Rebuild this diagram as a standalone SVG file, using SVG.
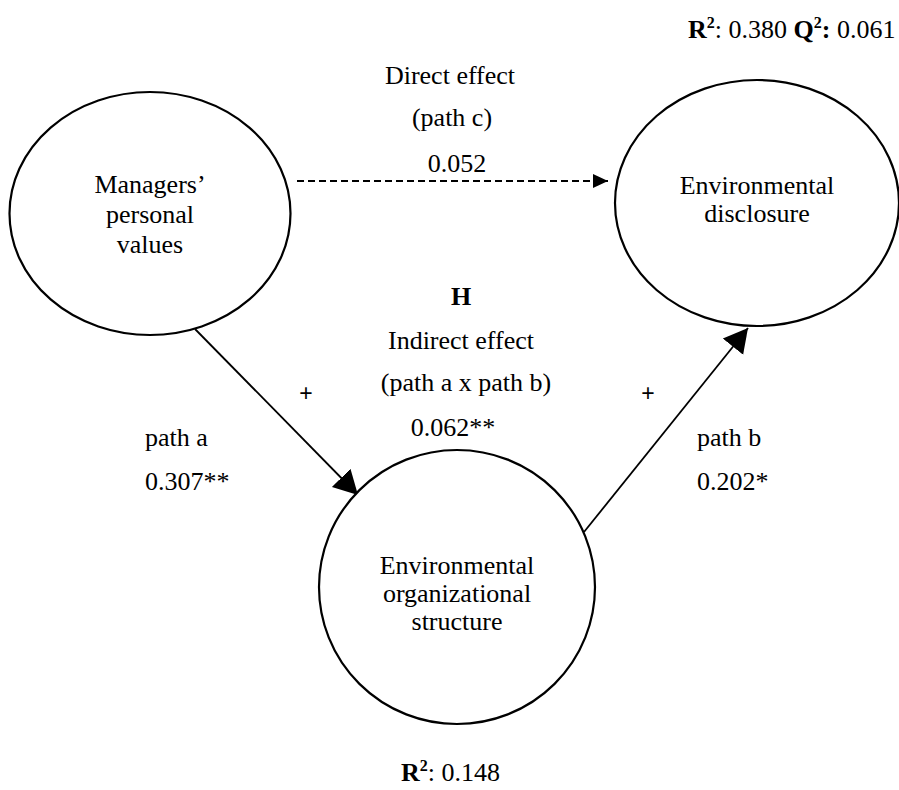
<svg xmlns="http://www.w3.org/2000/svg" width="899" height="790" viewBox="0 0 899 790">
<style>
.t{font-family:"Liberation Serif","Times New Roman",serif;font-size:26px;fill:#000;text-anchor:middle}
.s{font-family:"Liberation Serif","Times New Roman",serif;font-size:26px;fill:#000}
.b{font-weight:bold}
.p{font-family:"Liberation Sans",Arial,sans-serif;font-size:23px;fill:#000;text-anchor:middle}
.n{fill:#fff;stroke:#000;stroke-width:2.2}
.c{stroke:#000;stroke-width:1.8;fill:none}
</style>
<defs>
<marker id="big" markerUnits="userSpaceOnUse" markerWidth="26" markerHeight="28" refX="24" refY="13" orient="auto" viewBox="0 0 26 26">
<path d="M0,0 L24,13 L0,26 Z" fill="#000"/>
</marker>
<marker id="small" markerUnits="userSpaceOnUse" markerWidth="16" markerHeight="14" refX="15" refY="7" orient="auto" viewBox="0 0 16 14">
<path d="M0,0 L15,7 L0,14 Z" fill="#000"/>
</marker>
</defs>
<g id="connectors">
<line class="c" x1="297" y1="181" x2="608" y2="181" stroke-dasharray="7,4" stroke-width="2" marker-end="url(#small)"/>
<line class="c" x1="195" y1="329" x2="358" y2="495" marker-end="url(#big)"/>
<line class="c" x1="584" y1="532" x2="748" y2="328" marker-end="url(#big)"/>
</g>
<g id="node-values">
<ellipse class="n" cx="150" cy="213.5" rx="140.5" ry="121.5"/>
<text class="t" x="150" y="193">Managers’</text>
<text class="t" x="150" y="223">personal</text>
<text class="t" x="150" y="253">values</text>
</g>
<g id="node-disclosure">
<ellipse class="n" cx="757" cy="203" rx="142" ry="123"/>
<text class="t" x="757" y="194">Environmental</text>
<text class="t" x="757" y="222">disclosure</text>
</g>
<g id="node-structure">
<ellipse class="n" cx="457" cy="587" rx="138" ry="137"/>
<text class="t" x="457" y="574">Environmental</text>
<text class="t" x="457" y="602">organizational</text>
<text class="t" x="457" y="630">structure</text>
</g>
<g id="labels">
<text class="s" x="688" y="38"><tspan class="b">R</tspan><tspan class="b" font-size="16" dy="-10">2</tspan><tspan dy="10">: 0.380 </tspan><tspan class="b">Q</tspan><tspan class="b" font-size="16" dy="-10">2</tspan><tspan class="b" dy="10">:</tspan><tspan> 0.061</tspan></text>
<text class="t" x="450" y="84">Direct effect</text>
<text class="t" x="452" y="126">(path c)</text>
<text class="t" x="457" y="172">0.052</text>
<text class="t b" x="461" y="305">H</text>
<text class="t" x="461" y="349">Indirect effect</text>
<text class="t" x="466" y="391">(path a x path b)</text>
<text class="t" x="453" y="436">0.062**</text>
<text class="p" x="306" y="401">+</text>
<text class="p" x="648" y="401">+</text>
<text class="s" x="145" y="446">path a</text>
<text class="s" x="145" y="490">0.307**</text>
<text class="s" x="697" y="446">path b</text>
<text class="s" x="697" y="490">0.202*</text>
<text class="s" x="401" y="781"><tspan class="b">R</tspan><tspan class="b" font-size="16" dy="-10">2</tspan><tspan dy="10">: 0.148</tspan></text>
</g>
</svg>
